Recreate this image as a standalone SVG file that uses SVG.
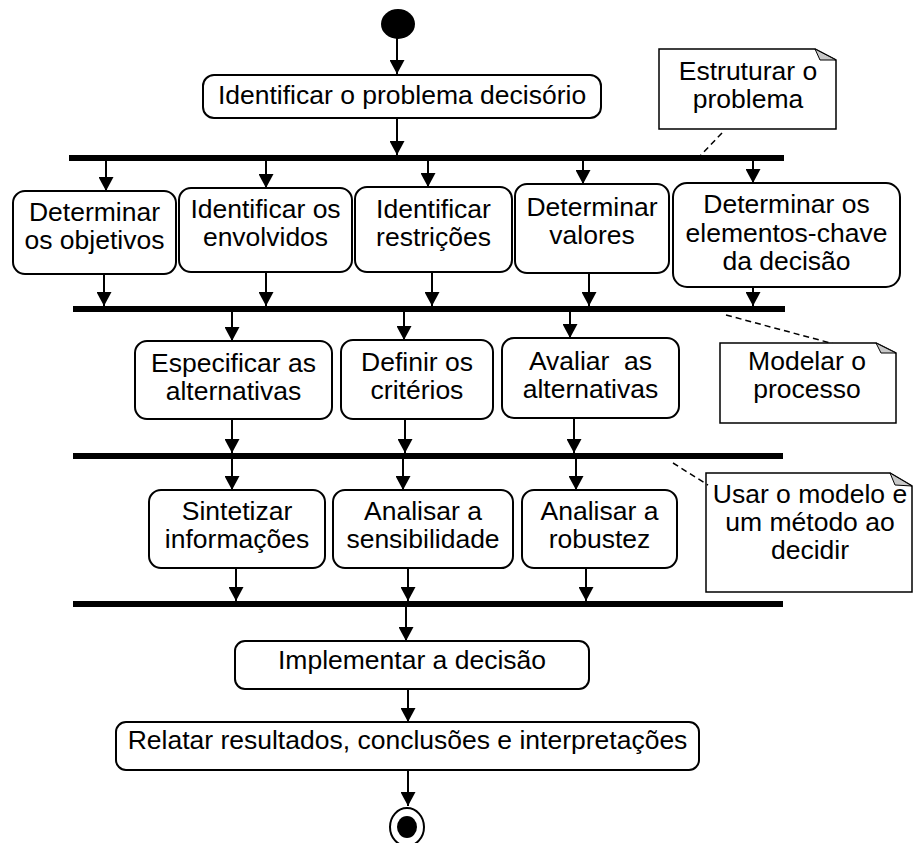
<svg xmlns="http://www.w3.org/2000/svg" width="913" height="843" viewBox="0 0 913 843">
  <style>
    .box { fill: #fff; stroke: #000; stroke-width: 2; }
    .bar { stroke: #000; stroke-width: 6; }
    .note { fill: #fff; stroke: #000; stroke-width: 1.5; }
    .fold { fill: #c8c8c8; stroke: #000; stroke-width: 1; }
    .flow { stroke: #000; stroke-width: 2; fill: none; marker-end: url(#arrow); }
    .link { stroke: #000; stroke-width: 1.5; stroke-dasharray: 6 4; fill: none; }
    text { font-family: "Liberation Sans", Arial, sans-serif; font-size: 26.5px; fill: #000; text-anchor: middle; }
  </style>
  <defs>
    <marker id="arrow" markerUnits="userSpaceOnUse" markerWidth="15" markerHeight="15" refX="14" refY="7.5" orient="auto">
      <path d="M0,0 L14,7.5 L0,15 z" fill="#000"/>
    </marker>
  </defs>

  <!-- synchronisation bars -->
  <g id="bars">
    <line class="bar" x1="69" y1="158" x2="784" y2="158"/>
    <line class="bar" x1="73" y1="309" x2="785" y2="309"/>
    <line class="bar" x1="73" y1="456" x2="783" y2="456"/>
    <line class="bar" x1="73" y1="604" x2="783" y2="604"/>
  </g>

  <!-- control flow -->
  <g id="connectors">
    <line class="flow" x1="397" y1="38" x2="397" y2="74"/>
    <line class="flow" x1="397" y1="118" x2="397" y2="155"/>

    <line class="flow" x1="106" y1="161" x2="106" y2="191"/>
    <line class="flow" x1="266" y1="161" x2="266" y2="188"/>
    <line class="flow" x1="428" y1="161" x2="428" y2="187"/>
    <line class="flow" x1="583" y1="161" x2="583" y2="184"/>
    <line class="flow" x1="753" y1="161" x2="753" y2="183"/>

    <line class="flow" x1="104" y1="274" x2="104" y2="306"/>
    <line class="flow" x1="266" y1="272" x2="266" y2="306"/>
    <line class="flow" x1="432" y1="272" x2="432" y2="306"/>
    <line class="flow" x1="589" y1="273" x2="589" y2="306"/>
    <line class="flow" x1="753" y1="287" x2="753" y2="306"/>

    <line class="flow" x1="232" y1="312" x2="232" y2="341"/>
    <line class="flow" x1="404" y1="312" x2="404" y2="340"/>
    <line class="flow" x1="570" y1="312" x2="570" y2="338"/>

    <line class="flow" x1="232" y1="419" x2="232" y2="453"/>
    <line class="flow" x1="405" y1="419" x2="405" y2="453"/>
    <line class="flow" x1="574" y1="418" x2="574" y2="453"/>

    <line class="flow" x1="232" y1="459" x2="232" y2="490"/>
    <line class="flow" x1="403" y1="459" x2="403" y2="490"/>
    <line class="flow" x1="576" y1="459" x2="576" y2="490"/>

    <line class="flow" x1="236" y1="568" x2="236" y2="601"/>
    <line class="flow" x1="408" y1="568" x2="408" y2="601"/>
    <line class="flow" x1="586" y1="568" x2="586" y2="601"/>

    <line class="flow" x1="406" y1="607" x2="406" y2="641"/>
    <line class="flow" x1="408" y1="689" x2="408" y2="722"/>
    <line class="flow" x1="408" y1="770" x2="408" y2="806"/>

    <!-- note anchors -->
    <line class="link" x1="722" y1="133" x2="700" y2="156"/>
    <line class="link" x1="726" y1="315" x2="838" y2="345"/>
    <line class="link" x1="673" y1="463" x2="708" y2="485"/>
  </g>

  <!-- initial and final states -->
  <g id="start">
    <ellipse cx="398" cy="24" rx="17" ry="15" fill="#000"/>
  </g>
  <g id="end">
    <ellipse cx="407" cy="827" rx="17" ry="19" fill="#fff" stroke="#000" stroke-width="2"/>
    <ellipse cx="407" cy="827" rx="10" ry="11" fill="#000"/>
  </g>

  <!-- activities -->
  <g id="identificar-problema">
    <rect class="box" x="203" y="75" width="398" height="43" rx="11"/>
    <text x="402" y="104">Identificar o problema decisório</text>
  </g>

  <g id="determinar-objetivos">
    <rect class="box" x="13" y="191" width="163" height="83" rx="12"/>
    <text x="94.5" y="221">Determinar</text>
    <text x="94.5" y="249">os objetivos</text>
  </g>
  <g id="identificar-envolvidos">
    <rect class="box" x="179" y="188" width="173" height="84" rx="12"/>
    <text x="265.5" y="218">Identificar os</text>
    <text x="265.5" y="246">envolvidos</text>
  </g>
  <g id="identificar-restricoes">
    <rect class="box" x="355" y="187" width="157" height="85" rx="12"/>
    <text x="433.5" y="218">Identificar</text>
    <text x="433.5" y="246">restrições</text>
  </g>
  <g id="determinar-valores">
    <rect class="box" x="515" y="184" width="154" height="89" rx="12"/>
    <text x="592" y="216">Determinar</text>
    <text x="592" y="244">valores</text>
  </g>
  <g id="determinar-elementos">
    <rect class="box" x="673" y="183" width="227" height="104" rx="14"/>
    <text x="786.5" y="213">Determinar os</text>
    <text x="786.5" y="241.5">elementos-chave</text>
    <text x="786.5" y="270">da decisão</text>
  </g>

  <g id="especificar-alternativas">
    <rect class="box" x="135" y="341" width="197" height="78" rx="12"/>
    <text x="233.5" y="372">Especificar as</text>
    <text x="233.5" y="400">alternativas</text>
  </g>
  <g id="definir-criterios">
    <rect class="box" x="341" y="340" width="152" height="79" rx="12"/>
    <text x="417" y="371">Definir os</text>
    <text x="417" y="399">critérios</text>
  </g>
  <g id="avaliar-alternativas">
    <rect class="box" x="502" y="338" width="177" height="80" rx="12"/>
    <text x="590.5" y="370" xml:space="preserve">Avaliar  as</text>
    <text x="590.5" y="398">alternativas</text>
  </g>

  <g id="sintetizar-informacoes">
    <rect class="box" x="149" y="490" width="176" height="78" rx="12"/>
    <text x="237" y="520">Sintetizar</text>
    <text x="237" y="548">informações</text>
  </g>
  <g id="analisar-sensibilidade">
    <rect class="box" x="333" y="490" width="180" height="78" rx="12"/>
    <text x="423" y="520">Analisar a</text>
    <text x="423" y="548">sensibilidade</text>
  </g>
  <g id="analisar-robustez">
    <rect class="box" x="522" y="490" width="155" height="78" rx="12"/>
    <text x="599.5" y="520">Analisar a</text>
    <text x="599.5" y="548">robustez</text>
  </g>

  <g id="implementar-decisao">
    <rect class="box" x="235" y="641" width="354" height="48" rx="10"/>
    <text x="412" y="669">Implementar a decisão</text>
  </g>
  <g id="relatar-resultados">
    <rect class="box" x="116" y="722" width="583" height="48" rx="10"/>
    <text x="407.5" y="749">Relatar resultados, conclusões e interpretações</text>
  </g>

  <!-- notes -->
  <g id="nota-estruturar">
    <path class="note" d="M659,49 H815 L836,60 V129 H659 Z"/>
    <path class="fold" d="M815,49 L820,60 L836,60 Z"/>
    <text x="748" y="80">Estruturar o</text>
    <text x="748" y="108">problema</text>
  </g>
  <g id="nota-modelar">
    <path class="note" d="M720,343 H876 L896,353 V423 H720 Z"/>
    <path class="fold" d="M876,343 L881,353 L896,353 Z"/>
    <text x="807" y="370">Modelar o</text>
    <text x="807" y="398">processo</text>
  </g>
  <g id="nota-usar">
    <text x="810" y="503">Usar o modelo e</text>
    <text x="810" y="531">um método ao</text>
    <text x="810" y="559">decidir</text>
    <path class="note" d="M706,473 H890 L912,486 V592 H706 Z" style="fill:none"/>
    <path class="fold" d="M890,473 L895,485 L912,486 Z"/>
  </g>
</svg>
